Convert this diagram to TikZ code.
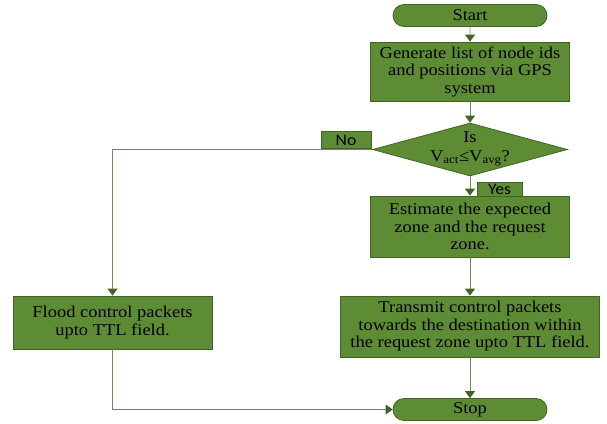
\documentclass[tikz,border=0pt]{standalone}
\usepackage{fontspec}
\setmainfont[FakeStretch=1.12]{Liberation Serif}
\newfontfamily\tagfont[FakeStretch=1.1]{Carlito}
\usetikzlibrary{shapes.geometric,shapes.misc,arrows.meta}
\definecolor{boxgreen}{RGB}{94,140,52}
\definecolor{edgegreen}{RGB}{65,100,38}
\definecolor{linegreen}{RGB}{112,140,82}
\begin{document}
\begin{tikzpicture}[x=1pt,y=-1pt,
	box/.style={draw=edgegreen,fill=boxgreen,line width=0.8pt,align=center,inner sep=0pt,font=\fontsize{16.5}{17.5}\selectfont},
	term/.style={box,rounded rectangle,minimum width=154pt,minimum height=22pt},
	tag/.style={draw=edgegreen,fill=boxgreen,line width=0.8pt,inner sep=0pt,font=\tagfont\fontsize{16}{16}\selectfont},
	flow/.style={draw=linegreen,line width=0.9pt,-{Triangle[width=10pt,length=7pt,color=edgegreen]}}]
	\useasboundingbox (0,0) rectangle (607,423);
	% shapes
	\node[term] (start) at (470,15.5) {Start};
	\node[box,minimum width=199pt,minimum height=59pt] (gen) at (470,71.5) {Generate list of node ids\\and positions via GPS\\system};
	\node[diamond,draw=edgegreen,fill=boxgreen,line width=0.8pt,inner sep=0pt,minimum width=195pt,minimum height=53pt] (dec) at (470,149.5) {};
	\node[align=center,font=\fontsize{16.5}{19}\selectfont] (dectext) at (470,149) {Is\\V\textsubscript{act}≤V\textsubscript{avg}?};
	\node[box,minimum width=199pt,minimum height=61pt] (est) at (470,226.5) {Estimate the expected\\zone and the request\\zone.};
	\node[box,minimum width=259pt,minimum height=61pt] (trans) at (470,326.5) {Transmit control packets\\towards the destination within\\the request zone upto TTL field.};
	\node[box,minimum width=199pt,minimum height=53pt] (flood) at (112.5,322.5) {Flood control packets\\upto TTL field.};
	\node[term] (stop) at (470,409.5) {Stop};
	% labels
	\node[tag,minimum width=50pt,minimum height=17pt] (no) at (346,140) {No};
	\node[tag,minimum width=45pt,minimum height=14pt] (yes) at (499.5,189) {Yes};
	% connectors
	\draw[flow] (start) -- (gen);
	\draw[flow] (gen) -- (dec);
	\draw[flow] (dec) -- (est);
	\draw[flow] (est) -- (trans);
	\draw[flow] (trans) -- (stop);
	\draw[flow] (dec.west) -| (flood.north);
	\draw[flow] (flood.south) |- (stop.west);
\end{tikzpicture}
\end{document}
